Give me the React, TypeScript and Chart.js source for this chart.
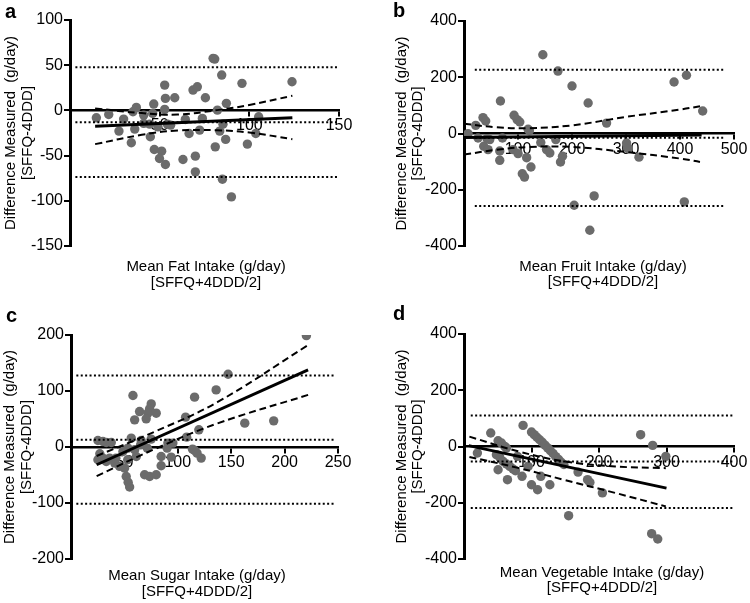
import React, { useEffect, useRef } from "react";
import { Chart, registerables } from "chart.js";

Chart.register(...registerables);

// ---------- Panel a: Fat ----------
const fatMean = [14.7, 21.6, 29.9, 27.3, 34.2, 36.1, 35.1, 37, 41.1, 41.1, 44.4, 44.8, 46.1, 46.7, 47, 51.1, 49.9, 53.2, 52.8, 53.2, 52.8, 49, 54.3, 58.4, 56.1, 63, 66.4, 64.3, 68.6, 71, 69.9, 69.9, 72.3, 73.8, 75.5, 79.8, 80.7, 82.2, 81, 83.5, 84.6, 85.3, 85, 87.2, 86.8, 90, 95.9, 98.9, 103.6, 105.2, 123.8];
const fatDiff = [-8.2, -4.5, -9.6, -22.9, -35.8, -20.7, -1.5, 3.3, -5.2, -14.4, -15.2, -29.2, -3.3, 7, -43.2, -45.1, -53.2, -59.8, 28, 13.3, 1.1, -18.2, -15.2, 14, -16.3, -54.3, -25.5, -10, 22.5, 26.1, -50.6, -68, -21.8, -8.9, 14, 57.6, 56.8, 0.3, -40.3, -22.9, 39.1, -15.2, -76.1, 7.8, -32.1, -95.7, 29.9, -37.3, -25.5, -7.1, 31.7];
const fatLimits = [47.6, -13, -73.6];
const fatLimitRange = [3, 149];
const fatFitX = [14, 124];
const fatFitY = [-17.4, -8.2];
const fatCiX = [14, 40, 60, 82, 100, 124];
const fatCiUpper = [2.2, -3, -4.5, 0.3, 6, 16.2];
const fatCiLower = [-37.3, -27, -22.3, -22, -24.5, -31.8];

// ---------- Panel b: Fruit ----------
const fruitMean = [7.4, 21.7, 26, 35.2, 40.2, 36.5, 44.5, 42.6, 47.7, 67.5, 71.2, 66.2, 66.2, 90.9, 92.7, 98.3, 103.3, 100.1, 108, 112, 118.7, 121, 116, 124, 142.2, 146, 152.8, 158.9, 170, 174, 178.7, 182.4, 200, 204, 229.9, 233, 241, 264, 301, 304, 324, 389, 412, 408, 442];
const fruitDiff = [-0.4, 29, -16, 56.5, 44.4, -45.5, -57.3, -18.1, -21.7, 115.6, -16, -62.2, -95.3, -57.3, 64.7, 49.4, 40.9, -71.5, -143, -155, 15, 10, -86, -119, -32.4, 280, -57.3, -69.3, -21.7, 222, -101.2, -81, 169, -255, 108.5, -344, -222, 37, -34, -54, -84, 183, 207, -243, 80];
const fruitLimits = [227, -15, -258];
const fruitLimitRange = [20, 480];
const fruitFitX = [0, 440];
const fruitFitY = [-14, -5];
const fruitCiX = [0, 60, 120, 200, 300, 400, 437];
const fruitCiUpper = [35, 22, 19, 29, 59, 85, 97];
const fruitCiLower = [-75, -58, -48, -48, -66, -89, -101];

// ---------- Panel c: Sugar ----------
const sugarMean = [58, 115.7, 135.9, 75.1, 73.6, 64.2, 72, 79.8, 59.6, 70.4, 107.3, 119.7, 108.3, 75.1, 25.2, 29.9, 33, 37.7, 56.4, 65.7, 65.2, 53.3, 48.6, 59.6, 71.4, 90.7, 95.4, 90, 84.4, 93.8, 115.7, 121.9, 25.2, 29.9, 33, 36.2, 40.9, 45.5, 50.2, 61.1, 53.1, 51.7, 53.5, 54.9, 68.9, 73.6, 79.8, 84.4, 147.1, 162.7, 189.8, 220.4, 113.8, 118, 27, 42];
const sugarDiff = [91.9, 89, 102, 77, 68, 63.3, 60.4, 60.4, 48.5, 50.3, 53.3, 30.7, 17.6, 14.1, 11.6, 9.8, 8, 8, 15.9, 11.6, 3.9, -2, -8, -5, -2, 7, 7, -2, -16.9, -18, -6, -19.8, -22.8, -19.8, -25.9, -19.8, -28.7, -34.6, -37.6, -16.9, -22.8, -52.6, -63, -71.5, -49.6, -52.6, -49.6, -33.5, 130, 42.6, 46.7, 198.8, -3.8, -11, -12, -20];
const sugarLimits = [127.5, 12.8, -101.3];
const sugarLimitRange = [5, 247];
const sugarFitX = [24, 222];
const sugarFitY = [-31.7, 137.7];
const sugarCiX = [24, 78, 137, 222];
const sugarCiUpper = [-16, 27, 80, 182];
const sugarCiLower = [-52, -4, 42, 93];

// ---------- Panel d: Vegetable ----------
const vegMean = [19.8, 39.6, 50.5, 55.5, 60.4, 62.9, 48, 53, 57.9, 62.9, 67.8, 72.7, 76.2, 50.5, 64.4, 79.2, 86, 87.5, 95, 100, 109, 113.8, 127.2, 100, 104, 108, 112, 116, 120, 124, 128, 132, 136, 140, 144, 148, 169, 183, 186.5, 205, 155, 261.7, 279.5, 299, 278, 287];
const vegDiff = [-23, 48, 20.6, 12.4, 0.4, -5.3, -29, -38.7, -53, -62.2, -70.8, -80, -86, -82.5, -118, -35.2, -106, 75, -70.8, -136, -153.6, -106, -136, 51.5, 42, 33, 24, 15, 5, -5, -15, -25, -36, -46, -56, -64, -91, -118, -127.6, -165, -246, 42, 3.9, -35, -310, -329];
const vegLimits = [110, -53, -219];
const vegLimitRange = [10, 398];
const vegFitX = [7, 300];
const vegFitY = [3, -148];
const vegCiX = [8, 80, 149, 224, 299];
const vegCiUpper = [35, -17, -53, -71, -77];
const vegCiLower = [-37, -76, -119, -165, -213];

const FONT = "'Liberation Sans', Arial, Helvetica, sans-serif";
const POINT_COLOR = "#6b6b6b";

type PanelSpec = {
  letter: string;
  left: number;
  top: number;
  width: number;
  height: number;
  area: { left: number; top: number; right: number; bottom: number };
  yTitlePad: number;
  xTitle: string[];
  xTitleX: number;
  xTitleY: number[];
  letterX: number;
  letterY: number;
  xMax: number;
  xStep: number;
  yMin: number;
  yMax: number;
  yStep: number;
  mean: number[];
  diff: number[];
  limits: number[];
  limitRange: number[];
  fitX: number[];
  fitY: number[];
  ciX: number[];
  ciUpper: number[];
  ciLower: number[];
};

const panels: PanelSpec[] = [
  {
    letter: "a", left: 0, top: 0, width: 375, height: 300,
    area: { left: 70, top: 20, right: 339, bottom: 246 },
    yTitlePad: 2.75,
    xTitle: ["Mean Fat Intake (g/day)", "[SFFQ+4DDD/2]"], xTitleX: 206, xTitleY: [267, 283],
    letterX: 5, letterY: 18,
    xMax: 150, xStep: 50, yMin: -150, yMax: 100, yStep: 50,
    mean: fatMean, diff: fatDiff, limits: fatLimits, limitRange: fatLimitRange,
    fitX: fatFitX, fitY: fatFitY, ciX: fatCiX, ciUpper: fatCiUpper, ciLower: fatCiLower,
  },
  {
    letter: "b", left: 375, top: 0, width: 375, height: 300,
    area: { left: 89, top: 21, right: 359, bottom: 246 },
    yTitlePad: 18.4,
    xTitle: ["Mean Fruit Intake (g/day)", "[SFFQ+4DDD/2]"], xTitleX: 228, xTitleY: [267, 282],
    letterX: 18, letterY: 17,
    xMax: 500, xStep: 100, yMin: -400, yMax: 400, yStep: 200,
    mean: fruitMean, diff: fruitDiff, limits: fruitLimits, limitRange: fruitLimitRange,
    fitX: fruitFitX, fitY: fruitFitY, ciX: fruitCiX, ciUpper: fruitCiUpper, ciLower: fruitCiLower,
  },
  {
    letter: "c", left: 0, top: 300, width: 375, height: 303,
    area: { left: 71, top: 35, right: 338, bottom: 259 },
    yTitlePad: 1.75,
    xTitle: ["Mean Sugar Intake (g/day)", "[SFFQ+4DDD/2]"], xTitleX: 197, xTitleY: [276, 292],
    letterX: 6, letterY: 22,
    xMax: 250, xStep: 50, yMin: -200, yMax: 200, yStep: 100,
    mean: sugarMean, diff: sugarDiff, limits: sugarLimits, limitRange: sugarLimitRange,
    fitX: sugarFitX, fitY: sugarFitY, ciX: sugarCiX, ciUpper: sugarCiUpper, ciLower: sugarCiLower,
  },
  {
    letter: "d", left: 375, top: 300, width: 375, height: 303,
    area: { left: 89, top: 34, right: 359, bottom: 259 },
    yTitlePad: 18.4,
    xTitle: ["Mean Vegetable Intake (g/day)", "[SFFQ+4DDD/2]"], xTitleX: 227, xTitleY: [273, 288],
    letterX: 18, letterY: 20,
    xMax: 400, xStep: 100, yMin: -400, yMax: 400, yStep: 200,
    mean: vegMean, diff: vegDiff, limits: vegLimits, limitRange: vegLimitRange,
    fitX: vegFitX, fitY: vegFitY, ciX: vegCiX, ciUpper: vegCiUpper, ciLower: vegCiLower,
  },
];

const panelTextPlugin = {
  id: "panelText",
  afterDraw(chart: any, _args: any, opts: any) {
    const ctx = chart.ctx;
    ctx.save();
    ctx.fillStyle = "#000";
    ctx.textAlign = "center";
    ctx.textBaseline = "middle";
    ctx.font = `15px ${FONT}`;
    opts.lines.forEach((t: string, i: number) => {
      ctx.fillText(t, opts.cx, opts.ys[i]);
    });
    ctx.textAlign = "left";
    ctx.textBaseline = "alphabetic";
    ctx.font = `bold 20px ${FONT}`;
    ctx.fillText(opts.letter, opts.letterX, opts.letterY);
    ctx.restore();
  },
};

function Panel({ p }: { p: PanelSpec }) {
  const ref = useRef<HTMLCanvasElement | null>(null);
  useEffect(() => {
    if (!ref.current) return;
    const pts = p.mean.map((x, i) => ({ x, y: p.diff[i] }));
    const lineOf = (xs: number[], ys: number[]) => xs.map((x, i) => ({ x, y: ys[i] }));
    const dotted = p.limits.map((v) => ({
      type: "line" as const,
      data: [{ x: p.limitRange[0], y: v }, { x: p.limitRange[1], y: v }],
      borderColor: "#000",
      borderWidth: 2,
      borderDash: [2, 2.4],
      pointRadius: 0,
      order: 0,
    }));
    const chart = new Chart(ref.current, {
      type: "scatter",
      data: {
        datasets: [
          {
            type: "line",
            data: lineOf(p.fitX, p.fitY),
            borderColor: "#000",
            borderWidth: 3,
            pointRadius: 0,
            order: 0,
          },
          {
            type: "line",
            data: lineOf(p.ciX, p.ciUpper),
            borderColor: "#000",
            borderWidth: 2,
            borderDash: [7, 4],
            pointRadius: 0,
            tension: 0.4,
            order: 0,
          },
          {
            type: "line",
            data: lineOf(p.ciX, p.ciLower),
            borderColor: "#000",
            borderWidth: 2,
            borderDash: [7, 4],
            pointRadius: 0,
            tension: 0.4,
            order: 0,
          },
          ...dotted,
          {
            type: "scatter",
            data: pts,
            backgroundColor: POINT_COLOR,
            borderColor: POINT_COLOR,
            borderWidth: 0,
            pointRadius: 4.7,
            order: 1,
          },
        ] as any,
      },
      options: {
        animation: false,
        responsive: false,
        maintainAspectRatio: false,
        events: [],
        layout: {
          padding: {
            left: 0,
            top: p.area.top,
            right: p.width - p.area.right,
            bottom: p.height - p.area.bottom,
          },
        },
        scales: {
          x: {
            type: "linear",
            position: { y: 0 } as any,
            min: 0,
            max: p.xMax,
            ticks: {
              stepSize: p.xStep,
              color: "#000",
              padding: 1,
              font: { family: FONT, size: 16 },
              maxRotation: 0,
              callback: (v: any) => (Number(v) === 0 ? "" : String(v)),
            },
            grid: {
              display: true,
              drawOnChartArea: false,
              drawTicks: true,
              tickLength: 5,
              color: "#000",
              lineWidth: 2,
            },
            border: { display: true, color: "#000", width: 2.5 },
          },
          y: {
            type: "linear",
            position: "left",
            min: p.yMin,
            max: p.yMax,
            ticks: {
              stepSize: p.yStep,
              color: "#000",
              padding: 1,
              font: { family: FONT, size: 16 },
            },
            grid: {
              display: true,
              drawOnChartArea: false,
              drawTicks: true,
              tickLength: 6,
              color: "#000",
              lineWidth: 2,
            },
            border: { display: true, color: "#000", width: 3 },
            title: {
              display: true,
              text: ["Difference Measured  (g/day)", "[SFFQ-4DDD]"],
              color: "#000",
              font: { family: FONT, size: 15, lineHeight: 1.1 },
              padding: { top: p.yTitlePad, bottom: 0 },
            },
            afterFit: (scale: any) => {
              scale.width = p.area.left;
            },
          },
        },
        plugins: {
          legend: { display: false },
          tooltip: { enabled: false },
          panelText: {
            lines: p.xTitle,
            cx: p.xTitleX,
            ys: p.xTitleY,
            letter: p.letter,
            letterX: p.letterX,
            letterY: p.letterY,
          },
        } as any,
      },
      plugins: [panelTextPlugin],
    });
    return () => chart.destroy();
  }, [p]);
  return (
    <canvas
      ref={ref}
      width={p.width}
      height={p.height}
      style={{
        position: "absolute",
        left: p.left,
        top: p.top,
        width: p.width,
        height: p.height,
      }}
    />
  );
}

export default function App() {
  return (
    <div
      style={{
        position: "absolute",
        left: 0,
        top: 0,
        width: 750,
        height: 603,
        background: "#fff",
        overflow: "hidden",
      }}
    >
      {panels.map((p) => (
        <Panel key={p.letter} p={p} />
      ))}
    </div>
  );
}
